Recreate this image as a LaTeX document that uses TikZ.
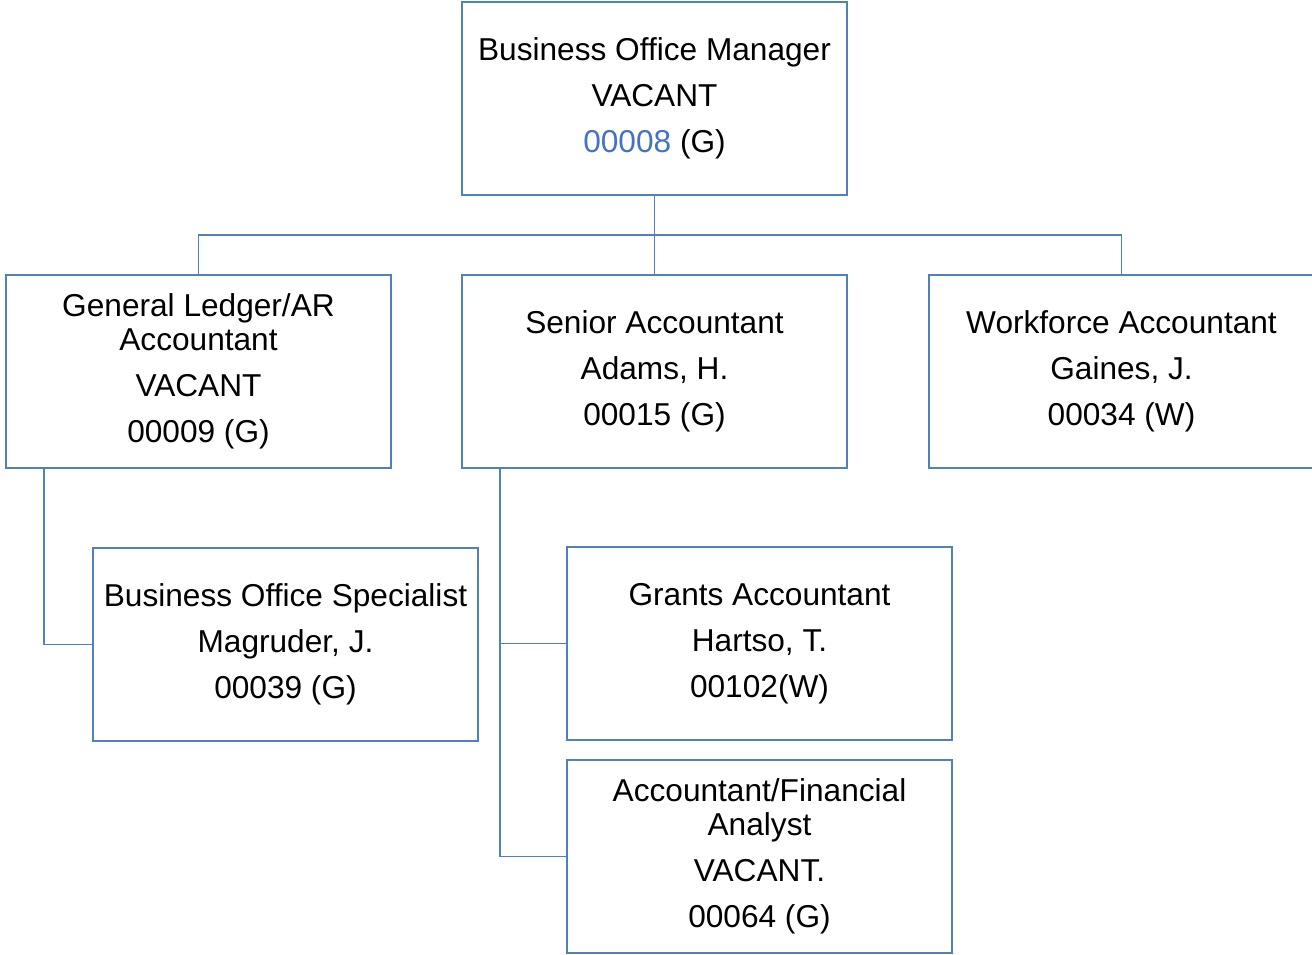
\documentclass[tikz,border=0pt]{standalone}
\usepackage{fontspec}
\setmainfont{Liberation Sans}
\usetikzlibrary{positioning}

\definecolor{boxblue}{RGB}{79,129,189}
\definecolor{numblue}{RGB}{68,114,196}

\begin{document}
\begin{tikzpicture}[
    every node/.style={draw=boxblue, line width=1.1pt, align=center, inner sep=2pt,
        minimum width=7.7cm, minimum height=3.86cm,
        font=\fontsize{18}{19.3}\selectfont},
    link/.style={draw=boxblue, line width=1.1pt}
]
\useasboundingbox (0,0) rectangle (26.24,-19.08);

\node (bom)     at (13.09, -1.97)  {Business Office Manager \\[6.8pt] VACANT \\[6.8pt] \textcolor{numblue}{00008} (G)};
\node (glar)    at (3.97, -7.43)   {General Ledger/AR \\ Accountant \\[6.8pt] VACANT \\[6.8pt] 00009 (G)};
\node (senior)  at (13.09, -7.43)  {Senior Accountant \\[6.8pt] Adams, H. \\[6.8pt] 00015 (G)};
\node (wfa)     at (22.43, -7.43)  {Workforce Accountant \\[6.8pt] Gaines, J. \\[6.8pt] 00034 (W)};
\node (bos)     at (5.71, -12.89)  {Business Office Specialist \\[6.8pt] Magruder, J. \\[6.8pt] 00039 (G)};
\node (grants)  at (15.19, -12.87) {Grants Accountant \\[6.8pt] Hartso, T. \\[6.8pt] 00102(W)};
\node (afa)     at (15.19, -17.13) {Accountant/Financial \\ Analyst \\[6.8pt] VACANT. \\[6.8pt] 00064 (G)};

\coordinate (bus) at (13.09, -4.7);
\draw[link] (bom) -- (bus);
\draw[link] (bus) -| (glar);
\draw[link] (bus) -| (senior);
\draw[link] (bus) -| (wfa);

\draw[link] ([xshift=7.8mm]glar.south west) |- (bos.west);
\draw[link] ([xshift=7.8mm]senior.south west) |- (afa.west);
\draw[link] (grants.west) -| ([xshift=7.8mm]senior.south west);
\end{tikzpicture}
\end{document}
